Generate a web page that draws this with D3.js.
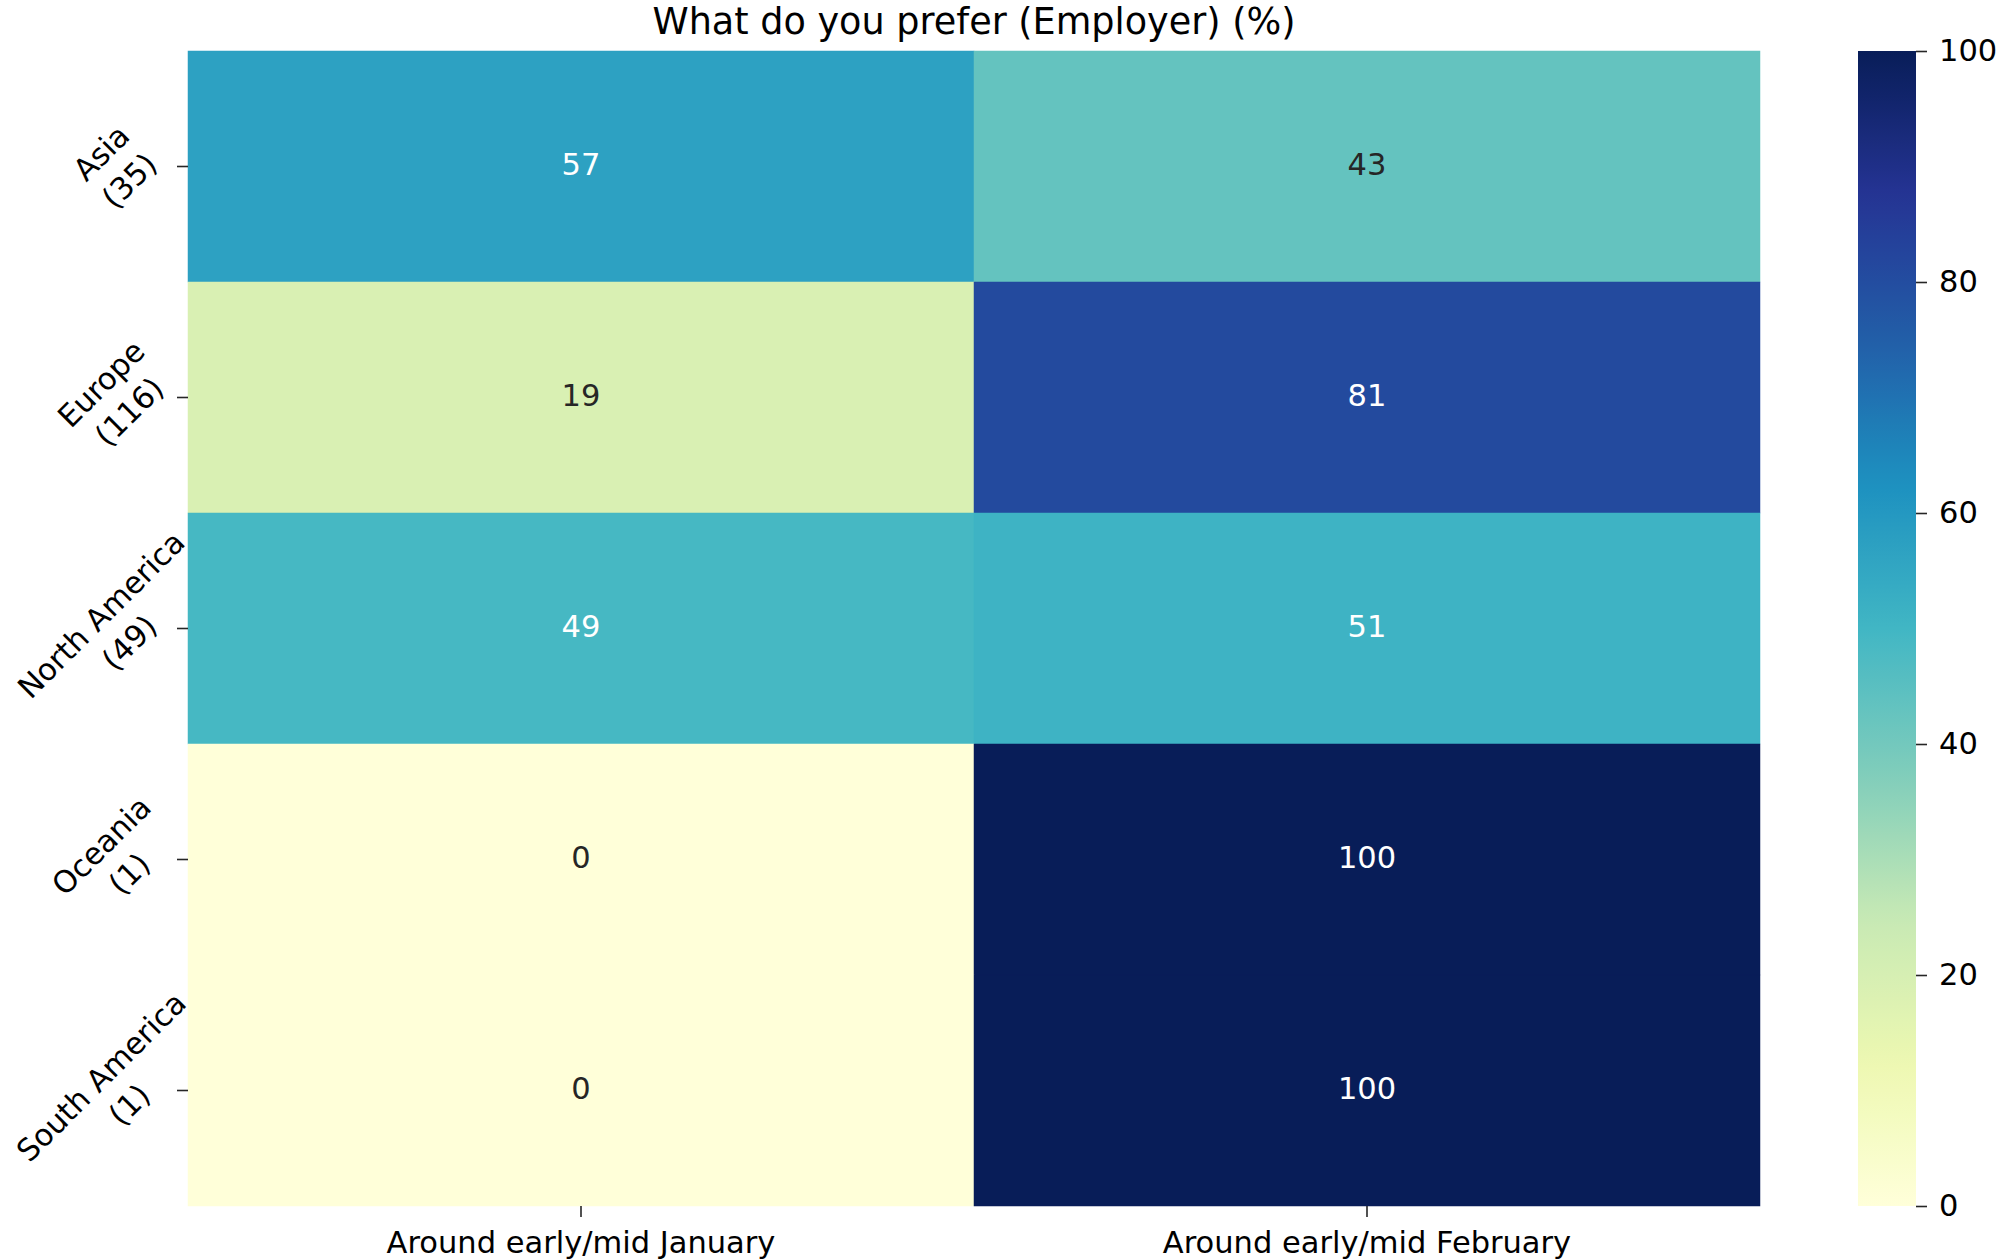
<!DOCTYPE html>
<html>
<head>
<meta charset="utf-8">
<script src="https://cdn.jsdelivr.net/npm/d3@7"></script>
<style>
    body { margin: 0; background: #fff; }
    svg { display: block; font-family: 'DejaVu Sans', sans-serif; }
</style>
</head>
<body>
<svg id="chart"></svg>
<script>
const regions = ['Asia', 'Europe', 'North America', 'Oceania', 'South America'];
const respondents = [35, 116, 49, 1, 1];
const periods = ['Around early/mid January', 'Around early/mid February'];
const januaryPct = [57.1, 19.0, 49.0, 0, 0];
const februaryPct = [42.9, 81.0, 51.0, 100, 100];
const cbarTicks = [0, 20, 40, 60, 80, 100];
const titleText = 'What do you prefer (Employer) (%)';

// matplotlib YlGnBu is a plain linear ramp over these nine colours
const ylGnBu = ['#ffffd9', '#edf8b1', '#c7e9b4', '#7fcdbb', '#41b6c4',
                '#1d91c0', '#225ea8', '#253494', '#081d58'];

const width = 1998;
const height = 1260;
const margin = { left: 188, top: 51, right: 1760, bottom: 1206 };
const fontSize = 30.5;

const svg = d3.select('#chart').attr('width', width).attr('height', height);

const color = d3.scaleLinear()
    .domain(d3.range(ylGnBu.length).map(i => i * 100 / (ylGnBu.length - 1)))
    .range(ylGnBu)
    .interpolate(d3.interpolateRgb)
    .clamp(true);

const x = d3.scaleBand().domain(periods).range([margin.left, margin.right]);
const y = d3.scaleBand().domain(regions).range([margin.top, margin.bottom]);

const cells = [];
regions.forEach((r, i) => {
    cells.push({ region: r, period: periods[0], value: januaryPct[i] });
    cells.push({ region: r, period: periods[1], value: februaryPct[i] });
});

// seaborn picks white or dark text from the cell luminance
function textColor(c) {
    const rgb = d3.rgb(c);
    const lin = v => {
        v /= 255;
        return v <= 0.03928 ? v / 12.92 : Math.pow((v + 0.055) / 1.055, 2.4);
    };
    const lum = 0.2126 * lin(rgb.r) + 0.7152 * lin(rgb.g) + 0.0722 * lin(rgb.b);
    return lum > 0.408 ? '#262626' : '#ffffff';
}

const cellGroup = svg.append('g');
cellGroup.selectAll('rect')
    .data(cells)
    .enter()
    .append('rect')
    .attr('x', d => x(d.period))
    .attr('y', d => y(d.region))
    .attr('width', x.bandwidth())
    .attr('height', y.bandwidth())
    .attr('fill', d => color(d.value))
    .attr('stroke', d => color(d.value))
    .attr('stroke-width', 0.5);

cellGroup.selectAll('text')
    .data(cells)
    .enter()
    .append('text')
    .attr('x', d => x(d.period) + x.bandwidth() / 2)
    .attr('y', d => y(d.region) + y.bandwidth() / 2 - 2)
    .attr('text-anchor', 'middle')
    .attr('dominant-baseline', 'central')
    .attr('font-size', fontSize)
    .attr('fill', d => textColor(color(d.value)))
    .text(d => d3.format('.0f')(d.value));

// x axis
const xAxis = svg.append('g')
    .attr('transform', `translate(0,${margin.bottom})`)
    .call(d3.axisBottom(x).tickSize(11).tickSizeOuter(0).tickPadding(14));
xAxis.select('.domain').remove();
xAxis.selectAll('line').attr('stroke', '#262626').attr('stroke-width', 1.6);
xAxis.selectAll('text')
    .attr('font-family', 'DejaVu Sans')
    .attr('font-size', fontSize)
    .attr('fill', '#000');

// y axis: short ticks, labels rotated 45deg, two centred lines
const yAxis = svg.append('g');
yAxis.selectAll('line')
    .data(regions)
    .enter()
    .append('line')
    .attr('x1', margin.left - 11)
    .attr('x2', margin.left)
    .attr('y1', d => y(d) + y.bandwidth() / 2)
    .attr('y2', d => y(d) + y.bandwidth() / 2)
    .attr('stroke', '#262626')
    .attr('stroke-width', 1.6);

const labelCenterX = 115;
yAxis.selectAll('g.ylabel')
    .data(regions)
    .enter()
    .append('g')
    .attr('class', 'ylabel')
    .attr('transform', d => `translate(${labelCenterX},${y(d) + y.bandwidth() / 2}) rotate(-45)`)
    .each(function(d, i) {
        const t = d3.select(this).append('text')
            .attr('text-anchor', 'middle')
            .attr('dominant-baseline', 'central')
            .attr('font-size', fontSize)
            .attr('fill', '#000');
        t.append('tspan').attr('x', 0).attr('y', '-0.65em').text(d);
        t.append('tspan').attr('x', 0).attr('y', '0.65em').text(`(${respondents[i]})`);
    });

// colorbar
const cbar = { x0: 1858, x1: 1916 };
const cy = d3.scaleLinear().domain([0, 100]).range([margin.bottom, margin.top]);

const defs = svg.append('defs');
const grad = defs.append('linearGradient')
    .attr('id', 'cbar-grad')
    .attr('x1', 0).attr('y1', 1).attr('x2', 0).attr('y2', 0);
d3.range(0, 101, 2).forEach(v => {
    grad.append('stop')
        .attr('offset', `${v}%`)
        .attr('stop-color', color(v));
});

svg.append('rect')
    .attr('x', cbar.x0)
    .attr('y', cy(100))
    .attr('width', cbar.x1 - cbar.x0)
    .attr('height', cy(0) - cy(100))
    .attr('fill', 'url(#cbar-grad)');

const cAxis = svg.append('g')
    .attr('transform', `translate(${cbar.x1},0)`)
    .call(d3.axisRight(cy).tickValues(cbarTicks).tickSize(11).tickPadding(12));
cAxis.select('.domain').remove();
cAxis.selectAll('line').attr('stroke', '#262626').attr('stroke-width', 1.6);
cAxis.selectAll('text')
    .attr('font-family', 'DejaVu Sans')
    .attr('font-size', fontSize)
    .attr('fill', '#000');

// title
svg.append('text')
    .attr('x', (margin.left + margin.right) / 2)
    .attr('y', 34)
    .attr('text-anchor', 'middle')
    .attr('font-size', 36.6)
    .attr('fill', '#000')
    .text(titleText);
</script>
</body>
</html>
